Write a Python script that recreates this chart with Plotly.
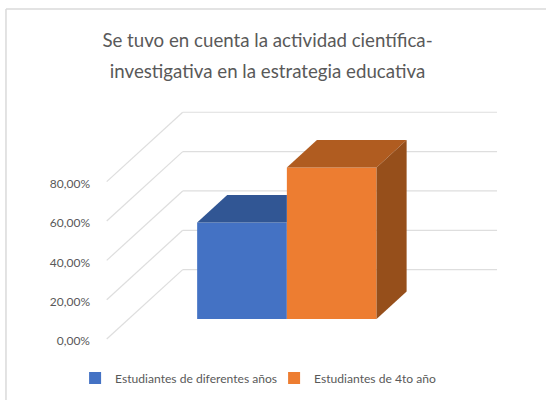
import plotly.graph_objects as go

title_lines = ["Se tuvo en cuenta la actividad científica-", "investigativa en la estrategia educativa"]
series_names = ["Estudiantes de diferentes años", "Estudiantes de 4to año"]
series_values = [49.0, 77.0]
tick_values = [0, 20, 40, 60, 80]
tick_labels = ["0,00%", "20,00%", "40,00%", "60,00%", "80,00%"]
front_colors = ["#4472C4", "#ED7D31"]
top_colors = ["#315694", "#B05C20"]
side_colors = ["#264478", "#964F1B"]

FONT = "Lato"

# Oblique projection: x in bar widths, y in percentage points
FLOOR_FRONT_Y = -10.2    # floor front edge, relative to bar base
FLOOR_BACK_Y = 25.07
WALL_LEFT_FRONT = -1.508
WALL_LEFT_BACK = -0.661
WALL_RIGHT_BACK = 2.843
BAR_DX = 0.335
BAR_DY = 14.0
W = 0.5

fig = go.Figure()

for i, (name, val) in enumerate(zip(series_names, series_values)):
    fig.add_trace(go.Bar(x=[i], y=[val], width=1, name=name,
                         marker=dict(color=front_colors[i], line=dict(width=0))))

# top and side faces are computed from the values
for i, val in enumerate(series_values):
    left, right = i - W, i + W
    if i + 1 < len(series_values) and series_values[i + 1] > val:
        # neighbour in front of this bar's rear part: keep only the visible part
        xs = [left, right, right, left + BAR_DX]
        ys = [val, val, val + BAR_DY, val + BAR_DY]
        xs_side = None
    else:
        xs = [left, right, right + BAR_DX, left + BAR_DX]
        ys = [val, val, val + BAR_DY, val + BAR_DY]
        xs_side = [right, right + BAR_DX, right + BAR_DX, right]
        ys_side = [0, BAR_DY, val + BAR_DY, val]
    fig.add_trace(go.Scatter(x=xs + xs[:1], y=ys + ys[:1], mode="lines", fill="toself",
                             fillcolor=top_colors[i], line=dict(width=0),
                             showlegend=False, hoverinfo="skip"))
    if xs_side:
        fig.add_trace(go.Scatter(x=xs_side + xs_side[:1], y=ys_side + ys_side[:1], mode="lines",
                                 fill="toself", fillcolor=side_colors[i], line=dict(width=0),
                                 showlegend=False, hoverinfo="skip"))

shapes = []
grid = dict(color="#DEDEDE", width=1.2)
for t in tick_values:
    shapes.append(dict(type="line", xref="x", yref="y", layer="below",
                       x0=WALL_LEFT_FRONT, y0=t + FLOOR_FRONT_Y,
                       x1=WALL_LEFT_BACK, y1=t + FLOOR_BACK_Y, line=grid))
    shapes.append(dict(type="line", xref="x", yref="y", layer="below",
                       x0=WALL_LEFT_BACK, y0=t + FLOOR_BACK_Y,
                       x1=WALL_RIGHT_BACK, y1=t + FLOOR_BACK_Y, line=grid))
# chart frame (left and top edges)
frame = dict(color="#DADADA", width=1.5)
shapes.append(dict(type="line", xref="paper", yref="paper", layer="below",
                   x0=-0.2138, y0=-0.2, x1=-0.2138, y1=1.364, line=frame))
shapes.append(dict(type="line", xref="paper", yref="paper", layer="below",
                   x0=-0.2138, y0=1.364, x1=1.12, y1=1.364, line=frame))

# the title font size sets the line spacing; the inner span sets the glyph size
title_text = "<br>".join(f'<span style="font-size:18.7px">{line}</span>' for line in title_lines)

fig.update_layout(
    width=546, height=400,
    margin=dict(l=93, r=46, t=100, b=50, autoexpand=False),
    paper_bgcolor="white", plot_bgcolor="white",
    barmode="overlay",
    showlegend=True,
    title=dict(text=title_text, x=267.5 / 546, xanchor="center", xref="container",
               y=1 - 47 / 400, yref="container", yanchor="middle",
               font=dict(family=FONT, size=23.8, color="#595959")),
    font=dict(family=FONT, color="#595959", size=12),
    legend=dict(orientation="h", x=-0.044, y=-0.112, xanchor="left", yanchor="middle",
                entrywidth=154, entrywidthmode="pixels",
                font=dict(family=FONT, size=12.1, color="#595959"), bgcolor="rgba(0,0,0,0)"),
    shapes=shapes,
    xaxis=dict(range=[-1.661, 2.876], visible=False, fixedrange=True),
    yaxis=dict(range=[-15.76, 111.3], showgrid=False, zeroline=False, showline=False,
               automargin=False,
               tickmode="array", tickvals=[t + FLOOR_FRONT_Y for t in tick_values],
               ticktext=tick_labels, ticks="", fixedrange=True, ticklabelstandoff=2,
               ticklabelshift=2,
               tickfont=dict(family=FONT, size=12, color="#595959")),
)

# page margin removed so the 546x400 figure fills the window
fig.write_html("out.html", config={"displayModeBar": False},
               post_script="document.body.style.margin='0';")
